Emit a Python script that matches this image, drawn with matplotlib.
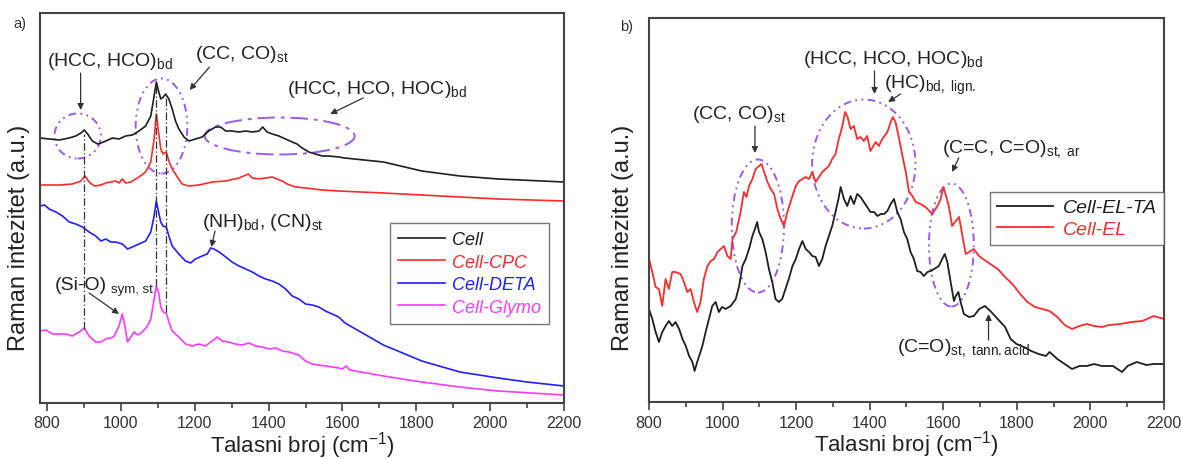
import matplotlib
matplotlib.use("Agg")
import matplotlib.pyplot as plt
from matplotlib.patches import Ellipse
from matplotlib.ticker import MultipleLocator

plt.rcParams['font.family'] = ['Liberation Sans', 'DejaVu Sans']
plt.rcParams['mathtext.fontset'] = 'custom'
plt.rcParams['mathtext.rm'] = 'Liberation Sans'
plt.rcParams['mathtext.it'] = 'Liberation Sans:italic'

# ---------------- Panel a data (wavenumber, intensity a.u.) ----------------
cell_x = [782, 806, 833, 860, 878, 892, 901, 910, 923, 937, 946, 959, 977, 995, 1013, 1031, 1049, 1067,
          1081, 1090, 1096, 1102, 1108, 1115, 1121, 1130, 1139, 1148, 1157, 1171, 1184, 1202, 1220, 1238,
          1256, 1270, 1284, 1301, 1320, 1338, 1356, 1374, 1384, 1396, 1410, 1428, 1446, 1464, 1477, 1491,
          1509, 1527, 1545, 1563, 1590, 1606, 1711, 1815, 1918, 2022, 2200]
cell_y = [265, 264, 263, 265, 267, 270, 273, 269, 262, 259, 260, 262, 265, 264, 267, 268, 272, 277,
          287, 307, 321, 312, 304, 306, 309, 304, 294, 282, 274, 266, 262, 264, 266, 272,
          276, 276, 272, 272, 271, 272, 271, 272, 276, 271, 269, 267, 264, 261, 259, 255,
          251, 249, 247, 247, 246, 245, 241, 232, 227, 224, 221]

cpc_x = [782, 833, 869, 892, 903, 914, 928, 946, 959, 973, 986, 995, 1004, 1013, 1027, 1049, 1067, 1081,
         1090, 1096, 1102, 1108, 1114, 1123, 1130, 1139, 1153, 1166, 1184, 1211, 1247, 1283, 1320, 1345,
         1356, 1374, 1392, 1410, 1423, 1437, 1450, 1473, 1500, 1545, 1590, 1711, 1815, 1918, 2022, 2200]
cpc_y = [218, 218, 219, 222, 227, 221, 217, 218, 220, 221, 222, 220, 224, 220, 221, 226, 231, 241,
         264, 289, 271, 254, 249, 251, 242, 234, 226, 219, 217, 218, 221, 222, 225, 229,
         225, 224, 225, 226, 224, 222, 219, 216, 215, 213, 212, 210, 208, 206, 204, 202]

deta_x = [782, 793, 806, 824, 842, 860, 878, 896, 914, 932, 946, 959, 973, 986, 1004, 1018, 1031, 1049,
          1067, 1081, 1090, 1096, 1102, 1108, 1114, 1123, 1130, 1139, 1157, 1175, 1189, 1202, 1220, 1234,
          1243, 1252, 1266, 1284, 1301, 1320, 1338, 1356, 1374, 1392, 1410, 1428, 1446, 1464, 1482, 1500,
          1518, 1536, 1554, 1572, 1590, 1607, 1711, 1815, 1918, 2022, 2100, 2200]
deta_y = [197, 198, 194, 191, 187, 181, 179, 176, 171, 167, 162, 164, 161, 161, 159, 154, 156, 159,
          162, 171, 187, 202, 191, 181, 177, 176, 167, 157, 149, 142, 140, 144, 147, 149,
          155, 154, 151, 146, 141, 137, 134, 131, 127, 124, 122, 119, 114, 107, 104, 99,
          98, 96, 92, 89, 86, 80, 58, 42, 31, 25, 21, 17]

glymo_x = [782, 797, 815, 833, 851, 869, 887, 901, 914, 932, 946, 959, 973, 982, 995, 1004, 1011, 1018,
           1027, 1036, 1045, 1058, 1072, 1081, 1090, 1096, 1102, 1108, 1114, 1123, 1130, 1139, 1157, 1175,
           1193, 1211, 1229, 1247, 1261, 1274, 1292, 1310, 1328, 1347, 1365, 1383, 1401, 1419, 1437, 1455,
           1482, 1500, 1518, 1536, 1554, 1572, 1590, 1600, 1610, 1620, 1711, 1815, 1918, 2022, 2200]
glymo_y = [72, 73, 69, 69, 69, 67, 71, 75, 67, 61, 61, 64, 65, 67, 77, 89, 77, 61,
           66, 71, 68, 71, 77, 84, 104, 117, 111, 96, 91, 90, 81, 72, 66, 59,
           57, 59, 57, 62, 66, 62, 61, 59, 58, 60, 57, 56, 54, 55, 52, 51,
           48, 42, 39, 38, 37, 36, 35, 34, 37, 33, 27, 21, 16, 12, 8]

# ---------------- Panel b data ----------------
el_x = [800, 809, 818, 827, 836, 845, 854, 863, 872, 886, 895, 904, 913, 922, 931, 940, 949, 959, 968,
        977, 986, 995, 1004, 1013, 1022, 1027, 1037, 1049, 1058, 1065, 1072, 1081, 1090, 1099, 1106, 1113,
        1122, 1131, 1140, 1149, 1158, 1167, 1176, 1190, 1199, 1208, 1217, 1226, 1235, 1244, 1253, 1262,
        1271, 1280, 1289, 1298, 1307, 1316, 1325, 1333, 1339, 1348, 1357, 1366, 1375, 1384, 1393, 1402,
        1416, 1425, 1434, 1448, 1457, 1463, 1470, 1480, 1489, 1498, 1507, 1516, 1525, 1538, 1552, 1570,
        1584, 1593, 1600, 1606, 1615, 1624, 1634, 1643, 1652, 1661, 1670, 1683, 1697, 1708, 1728, 1748,
        1768, 1788, 1809, 1829, 1849, 1869, 1889, 1910, 1930, 1950, 1970, 1990, 2010, 2031, 2051, 2081,
        2111, 2141, 2172, 2200]
el_y = [143, 130, 115, 113, 96, 123, 113, 130, 130, 128, 120, 110, 113, 100, 90, 100, 123, 136, 141,
        143, 150, 153, 156, 146, 143, 163, 170, 190, 210, 205, 216, 223, 233, 236, 238, 230,
        220, 213, 208, 193, 183, 176, 190, 206, 216, 221, 223, 225, 223, 230, 220, 225,
        230, 233, 236, 243, 248, 263, 275, 290, 286, 273, 276, 263, 265, 261, 266, 251,
        260, 256, 263, 270, 280, 285, 280, 263, 246, 230, 210, 206, 200, 198, 195, 188,
        196, 203, 215, 208, 196, 176, 181, 185, 166, 148, 150, 153, 146, 143, 138, 133,
        125, 118, 108, 100, 95, 93, 91, 85, 77, 73, 76, 78, 76, 75, 77, 78,
        80, 81, 86, 83]

elta_x = [800, 809, 818, 827, 836, 845, 854, 863, 872, 882, 891, 900, 909, 918, 924, 931, 940, 945, 954,
          963, 972, 981, 990, 995, 999, 1008, 1022, 1036, 1045, 1054, 1063, 1072, 1081, 1088, 1094, 1099,
          1108, 1117, 1126, 1135, 1144, 1153, 1162, 1171, 1180, 1190, 1199, 1208, 1217, 1226, 1235, 1244,
          1253, 1262, 1271, 1280, 1289, 1298, 1307, 1315, 1321, 1330, 1339, 1348, 1357, 1366, 1375, 1384,
          1393, 1402, 1412, 1421, 1430, 1439, 1448, 1457, 1466, 1475, 1484, 1493, 1502, 1511, 1520, 1529,
          1538, 1547, 1557, 1566, 1575, 1588, 1597, 1604, 1611, 1620, 1629, 1634, 1641, 1647, 1656, 1670,
          1683, 1698, 1713, 1728, 1748, 1768, 1783, 1799, 1819, 1839, 1859, 1879, 1889, 1910, 1930, 1950,
          1970, 1990, 2010, 2031, 2061, 2086, 2101, 2126, 2152, 2172, 2200]
elta_y = [93, 83, 70, 60, 70, 76, 81, 76, 80, 73, 63, 56, 46, 40, 31, 40, 50, 56, 70,
          83, 96, 100, 90, 93, 95, 93, 96, 103, 116, 136, 143, 153, 166, 173, 180, 170,
          163, 150, 133, 120, 103, 100, 103, 113, 123, 136, 143, 153, 161, 153, 150, 146,
          145, 136, 143, 156, 166, 176, 190, 203, 215, 203, 196, 206, 198, 208, 205, 200,
          195, 190, 190, 186, 188, 188, 191, 198, 203, 190, 183, 170, 163, 150, 143, 131,
          130, 126, 130, 131, 133, 136, 143, 148, 140, 120, 101, 106, 110, 100, 88, 85,
          86, 93, 96, 91, 83, 75, 63, 58, 55, 51, 48, 46, 50, 43, 38, 33,
          36, 36, 38, 36, 36, 30, 36, 40, 37, 38, 38]

labels_a = ['Cell', 'Cell-CPC', 'Cell-DETA', 'Cell-Glymo']
labels_b = ['Cell-EL-TA', 'Cell-EL']
xticks = [800, 1000, 1200, 1400, 1600, 1800, 2000, 2200]

# ---------------- Styling ----------------
C_BLACK = '#1e1e1e'
C_RED = '#ff2a2a'
C_BLUE = '#2020ff'
C_MAG = '#ff38ff'
C_PURPLE = '#9b59f5'
SPINE = '#444444'
dd = (0, (4, 2.2, 1, 2.2, 1, 2.2))
dashdot = (0, (9, 3, 2, 3))

fig = plt.figure(figsize=(11.83, 4.60), dpi=100)
axa = fig.add_axes([40 / 1183, 1 - 404 / 460, 524 / 1183, 390 / 460])
axb = fig.add_axes([649 / 1183, 1 - 403 / 460, 515 / 1183, 384 / 460])


def style(ax, xmin, ylab_x, ylab_y):
    ax.set_xlim(xmin, 2200)
    ax.set_xticks(xticks)
    ax.xaxis.set_minor_locator(MultipleLocator(100))
    ax.set_yticks([])
    ax.tick_params(axis='x', which='major', direction='out', length=6, width=1.2,
                   color=SPINE, labelsize=11.5, labelcolor='#333333', pad=3)
    ax.tick_params(axis='x', which='minor', direction='out', length=3.5, width=1.2, color=SPINE)
    for s in ax.spines.values():
        s.set_color(SPINE)
        s.set_linewidth(1.5)
    ax.set_xlabel('Talasni broj (cm$^{\\mathrm{-1}}$)', fontsize=16, color='#222222', labelpad=-1)
    ax.set_ylabel('Raman intezitet (a.u.)', fontsize=17, color='#222222')
    ax.yaxis.set_label_coords(ylab_x, ylab_y)


def arrow(ax, start, end):
    ax.annotate('', xy=end, xytext=start,
                arrowprops=dict(arrowstyle='-|>', color='#333333', lw=0.9,
                                mutation_scale=9, shrinkA=0, shrinkB=0))


# ---------------- Panel a ----------------
axa.plot(cell_x, cell_y, color=C_BLACK, lw=1.2, label=labels_a[0])
axa.plot(cpc_x, cpc_y, color=C_RED, lw=1.2, label=labels_a[1])
axa.plot(deta_x, deta_y, color=C_BLUE, lw=1.2, label=labels_a[2])
axa.plot(glymo_x, glymo_y, color=C_MAG, lw=1.2, label=labels_a[3])
style(axa, 781, -0.019, 0.426)
axa.set_ylim(0, 390)

for xv, y0, y1 in [(900, 74, 269), (1096, 117, 321), (1121, 91, 309)]:
    axa.plot([xv, xv], [y0, y1], color='#333333', lw=0.9, ls=(0, (6, 2, 1, 2)))

axa.add_patch(Ellipse((883, 267), 126, 45, fill=False, ec=C_PURPLE, lw=1.4, ls=dd))
axa.add_patch(Ellipse((1110, 277), 140, 95, fill=False, ec=C_PURPLE, lw=1.4, ls=dd))
axa.add_patch(Ellipse((1430, 267), 406, 37, fill=False, ec=C_PURPLE, lw=1.4, ls=dashdot))

tk = dict(fontsize=14, color='#222222', va='baseline', ha='left')
axa.text(801, 338, '(HCC, HCO)$_{\\mathrm{bd}}$', **tk)
arrow(axa, (891, 330), (891, 293))
axa.text(1201, 345, '(CC, CO)$_{\\mathrm{st}}$', **tk)
arrow(axa, (1240, 336), (1186, 313))
axa.text(1451, 310, '(HCC, HCO, HOC)$_{\\mathrm{bd}}$', **tk)
arrow(axa, (1656, 305), (1567, 289))
axa.text(1221, 177, '(NH)$_{\\mathrm{bd}}$, (CN)$_{\\mathrm{st}}$', **tk)
arrow(axa, (1255, 172), (1245, 156))
axa.text(820, 114, '(Si-O)', **tk)
axa.text(973, 111, 'sym, st', fontsize=9.5, color='#222222', va='baseline', ha='left')
arrow(axa, (914, 110), (995, 89))

lega = axa.legend(loc='upper left', bbox_to_anchor=(0.668, 0.461),
                  prop={'style': 'italic', 'size': 13}, labelcolor='linecolor',
                  handlelength=2.6, handletextpad=0.4, labelspacing=0.3,
                  borderpad=0.45, frameon=True, fancybox=False, borderaxespad=0)
lega.get_frame().set_edgecolor('#555555')
lega.get_frame().set_linewidth(1.0)

# ---------------- Panel b ----------------
axb.plot(elta_x, elta_y, color=C_BLACK, lw=1.3, label=labels_b[0])
axb.plot(el_x, el_y, color=C_RED, lw=1.3, label=labels_b[1])
style(axb, 800, -0.029, 0.43)
axb.set_ylim(0, 384)

axb.add_patch(Ellipse((1096, 176), 142, 133, fill=False, ec=C_PURPLE, lw=1.4, ls=dd))
axb.add_patch(Ellipse((1384, 238), 281, 129, fill=False, ec=C_PURPLE, lw=1.4, ls=dd))
axb.add_patch(Ellipse((1622, 157), 122, 123, fill=False, ec=C_PURPLE, lw=1.4, ls=dd))

axb.text(918, 284, '(CC, CO)$_{\\mathrm{st}}$', **tk)
arrow(axb, (1088, 276), (1088, 249))
axb.text(1220, 339, '(HCC, HCO, HOC)$_{\\mathrm{bd}}$', **tk)
arrow(axb, (1413, 331), (1413, 308))
axb.text(1439, 314, '(HC)$_{\\mathrm{bd,\\ lign.}}$', **tk)
arrow(axb, (1484, 308), (1450, 300))
axb.text(1596, 250, '(C=C, C=O)$_{\\mathrm{st,\\ ar}}$', **tk)
arrow(axb, (1642, 244), (1624, 230))
axb.text(1474, 51, '(C=O)$_{\\mathrm{st,\\ tann.acid}}$', **tk)
arrow(axb, (1723, 62), (1723, 88))

legb = axb.legend(loc='upper right', bbox_to_anchor=(1.0, 0.547),
                  prop={'style': 'italic', 'size': 14}, labelcolor='linecolor',
                  handlelength=2.9, handletextpad=0.5, labelspacing=0.2,
                  borderpad=0.35, frameon=True, fancybox=False, borderaxespad=0)
legb.get_frame().set_edgecolor('#555555')
legb.get_frame().set_linewidth(1.0)

fig.text(13 / 1183, 1 - 24 / 460, 'a)', fontsize=10.5, color='#333333', va='center', ha='left')
fig.text(620 / 1183, 1 - 27 / 460, 'b)', fontsize=10.5, color='#333333', va='center', ha='left')

fig.savefig('out.png', dpi=100)
